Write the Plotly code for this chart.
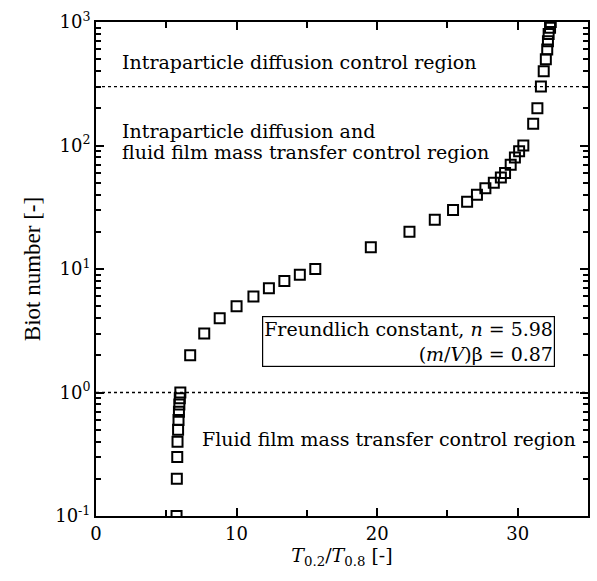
import numpy as np
import plotly.graph_objects as go

# data: T0.2/T0.8 ratio vs Biot number
biot = [0.1, 0.2, 0.3, 0.4, 0.5, 0.6, 0.7, 0.8, 0.9, 1.0,
        2, 3, 4, 5, 6, 7, 8, 9, 10,
        15, 20, 25, 30, 35, 40, 45, 50, 55, 60, 70, 80, 90, 100,
        150, 200, 300, 400, 500, 600, 700, 800, 900, 1000]
t_ratio = [5.73, 5.75, 5.78, 5.80, 5.84, 5.87, 5.90, 5.93, 5.96, 6.00,
           6.7, 7.7, 8.8, 10.0, 11.2, 12.3, 13.4, 14.5, 15.6,
           19.55, 22.3, 24.1, 25.4, 26.4, 27.1, 27.7, 28.3, 28.8, 29.1, 29.5, 29.8, 30.1, 30.4,
           31.1, 31.4, 31.65, 31.85, 32.0, 32.1, 32.15, 32.2, 32.3, 32.35]

boundary_biot = [1, 300]
x_range = [0, 35]
y_tickvals = [0.1, 1, 10, 100, 1000]
y_ticktext = ["10<sup>-1</sup>", "10<sup>0</sup>", "10<sup>1</sup>", "10<sup>2</sup>", "10<sup>3</sup>"]
x_tickvals = [0, 10, 20, 30]

WIDE = "DejaVu Serif"
TALL = "Liberation Serif"

fig = go.Figure()

for b in boundary_biot:
    fig.add_trace(go.Scatter(x=x_range, y=[b, b], mode="lines",
                             line=dict(color="black", width=1.3, dash="dot"),
                             showlegend=False, hoverinfo="skip"))

fig.add_trace(go.Scatter(x=t_ratio, y=biot, mode="markers",
                         marker=dict(symbol="square-open", size=10, color="black",
                                     line=dict(width=2, color="black")),
                         showlegend=False))

axis_common = dict(showline=True, linecolor="black", linewidth=2, mirror="allticks",
                   ticks="inside", tickcolor="black", tickwidth=2, ticklen=8,
                   showgrid=False, zeroline=False,
                   tickfont=dict(family=WIDE, size=18, color="black"))

fig.update_xaxes(range=x_range, tickvals=x_tickvals,
                 minor=dict(dtick=5, ticks="inside", ticklen=6, tickwidth=1.5, tickcolor="black", showgrid=False),
                 title=dict(text="<i>T</i><sub>0.2</sub>/<i>T</i><sub>0.8</sub> [-]",
                            font=dict(family=WIDE, size=19, color="black"), standoff=6),
                 **axis_common)
fig.update_yaxes(type="log", range=[-1, 3], tickvals=y_tickvals, ticktext=y_ticktext,
                 minor=dict(dtick="D1", ticks="inside", ticklen=5, tickwidth=1.5, tickcolor="black", showgrid=False),
                 title=dict(text="Biot number [-]", font=dict(family=TALL, size=23, color="black"), standoff=8),
                 **axis_common)

ann_font = dict(family=WIDE, size=19, color="black")
fig.add_annotation(x=1.7, y=np.log10(474), text="Intraparticle diffusion control region",
                   showarrow=False, xanchor="left", yanchor="middle", font=ann_font)
fig.add_annotation(x=1.7, y=np.log10(131), text="Intraparticle diffusion and",
                   showarrow=False, xanchor="left", yanchor="middle", font=ann_font)
fig.add_annotation(x=1.7, y=np.log10(88.5), text="fluid film mass transfer control region",
                   showarrow=False, xanchor="left", yanchor="middle", font=ann_font)
fig.add_annotation(x=34.3, y=np.log10(0.42), text="Fluid film mass transfer control region",
                   showarrow=False, xanchor="right", yanchor="middle", font=ann_font)
fig.add_annotation(x=32.67, y=np.log10(2.59),
                   text="Freundlich constant, <i>n</i> = 5.98<br>(<i>m</i>/<i>V</i>)β = 0.87",
                   showarrow=False, xanchor="right", yanchor="middle", align="right",
                   bordercolor="black", borderwidth=1.2, borderpad=1, bgcolor="white", font=ann_font)

fig.update_layout(width=597, height=581, margin=dict(l=96, r=7, t=22, b=65),
                  plot_bgcolor="white", paper_bgcolor="white", showlegend=False)

fig.write_html("out.html")
